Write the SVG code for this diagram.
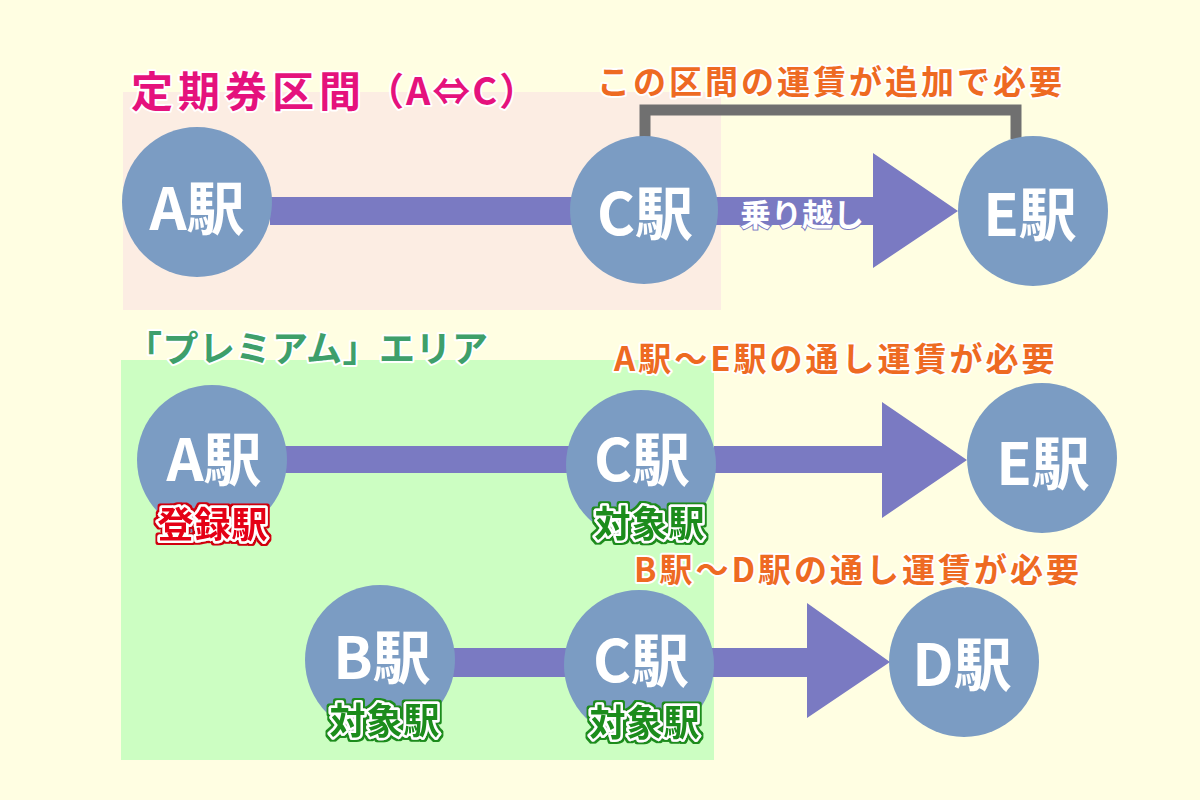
<svg xmlns="http://www.w3.org/2000/svg" width="1200" height="800" viewBox="0 0 1200 800">
<style>
text{font-family:"Noto Sans CJK JP","Noto Sans",sans-serif;font-weight:700;}
.st{fill:#ffffff;font-size:58px;text-anchor:middle;dominant-baseline:central;}
.node{fill:#7B9CC3;}
.bar{fill:#7A7AC2;}
.halo{paint-order:stroke;stroke:#ffffff;stroke-width:4;stroke-linejoin:round;}
.ttl{dominant-baseline:central;}
.org{fill:#EE6A22;font-size:33px;letter-spacing:3px;}
.red{fill:#E50012;font-size:36px;letter-spacing:1px;text-anchor:middle;dominant-baseline:central;paint-order:stroke;stroke:#ffffff;stroke-width:5;stroke-linejoin:round;}
.grn{fill:#1E8C1E;font-size:36px;letter-spacing:1px;text-anchor:middle;dominant-baseline:central;paint-order:stroke;stroke:#ffffff;stroke-width:5;stroke-linejoin:round;}
</style>
<defs>
<filter id="redEdge" x="-10%" y="-20%" width="120%" height="140%">
<feMorphology in="SourceAlpha" operator="dilate" radius="1.5" result="d"/>
<feFlood flood-color="#D00010"/>
<feComposite in2="d" operator="in" result="o"/>
<feMerge><feMergeNode in="o"/><feMergeNode in="SourceGraphic"/></feMerge>
</filter>
<filter id="grnEdge" x="-10%" y="-20%" width="120%" height="140%">
<feMorphology in="SourceAlpha" operator="dilate" radius="1.5" result="d"/>
<feFlood flood-color="#1E8C1E"/>
<feComposite in2="d" operator="in" result="o"/>
<feMerge><feMergeNode in="o"/><feMergeNode in="SourceGraphic"/></feMerge>
</filter>
</defs>
<rect width="1200" height="800" fill="#FFFEE2"/>
<g id="areas">
<rect x="123" y="92" width="598" height="218" fill="#FCEDE3"/>
<rect x="121" y="360" width="593" height="400" fill="#CCFEC2"/>
<text class="ttl halo" x="131" y="88" fill="#E5127D" font-size="42" letter-spacing="5">定期券区間<tspan font-size="38" letter-spacing="2">（A⇔C）</tspan></text>
<text class="ttl halo" x="126" y="346" fill="#3E9F6B" font-size="36" letter-spacing="0.5">「プレミアム」エリア</text>
</g>
<g id="connectors">
<rect class="bar" x="270" y="197" width="310" height="28"/>
<polygon class="bar" points="715,197 873,197 873,153 958,211 873,268 873,225 715,225"/>
<text x="802" y="212" fill="#ffffff" font-size="31" text-anchor="middle" dominant-baseline="central" style="paint-order:stroke;stroke:#7A7AC2;stroke-width:2">乗り越し</text>
<path d="M645 138 V110 H1016 V139" fill="none" stroke="#707070" stroke-width="11"/>
<rect class="bar" x="285" y="446" width="290" height="27"/>
<polygon class="bar" points="714,446 882,446 882,402 967,460 882,518 882,473 714,473"/>
<rect class="bar" x="450" y="648" width="120" height="29"/>
<polygon class="bar" points="712,648 807,648 807,603 890,662 807,718 807,677 712,677"/>
</g>
<g id="node-A1"><circle class="node" cx="197" cy="202" r="75"/><text class="st" x="197" y="205">A駅</text></g>
<g id="node-C1"><circle class="node" cx="644" cy="210" r="74"/><text class="st" x="645" y="210">C駅</text></g>
<g id="node-E1"><circle class="node" cx="1033" cy="211" r="75"/><text class="st" x="1030" y="211">E駅</text></g>
<g id="node-A2"><circle class="node" cx="212" cy="460" r="75"/><text class="st" x="214" y="456">A駅</text><text class="red" x="213" y="522" filter="url(#redEdge)">登録駅</text></g>
<g id="node-C2"><circle class="node" cx="641" cy="465" r="75"/><text class="st" x="642" y="456">C駅</text><text class="grn" x="650" y="521" filter="url(#grnEdge)">対象駅</text></g>
<g id="node-E2"><circle class="node" cx="1042" cy="458" r="75"/><text class="st" x="1043" y="460">E駅</text></g>
<g id="node-B3"><circle class="node" cx="380" cy="660" r="75"/><text class="st" x="382" y="654">B駅</text><text class="grn" x="385" y="718" filter="url(#grnEdge)">対象駅</text></g>
<g id="node-C3"><circle class="node" cx="639" cy="665" r="75"/><text class="st" x="641" y="657">C駅</text><text class="grn" x="645" y="720" filter="url(#grnEdge)">対象駅</text></g>
<g id="node-D3"><circle class="node" cx="964" cy="662" r="75"/><text class="st" x="962" y="661">D駅</text></g>
<g id="notes">
<text class="ttl halo org" x="597" y="80">この区間の運賃が追加で必要</text>
<text class="ttl halo org" x="614" y="357">A駅～E駅の通し運賃が必要</text>
<text class="ttl halo org" x="634" y="568">B駅～D駅の通し運賃が必要</text>
</g>
</svg>
